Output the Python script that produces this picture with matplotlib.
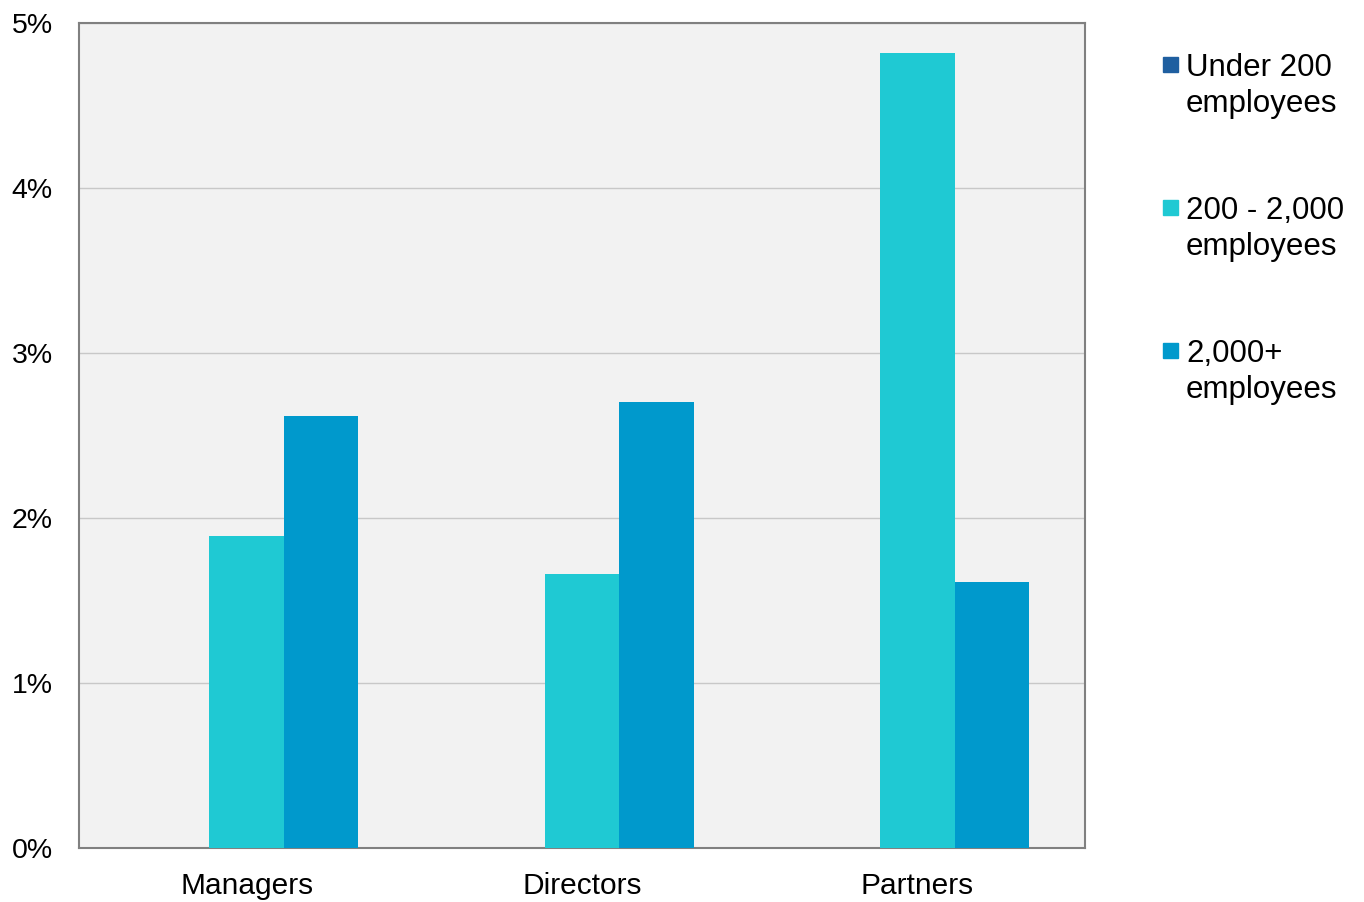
import matplotlib
matplotlib.use("Agg")
import matplotlib.pyplot as plt
from matplotlib.patches import Rectangle
import numpy as np

plt.rcParams['font.family'] = ['Liberation Sans', 'DejaVu Sans']

categories = ["Managers", "Directors", "Partners"]
series_names = ["Under 200\nemployees", "200 - 2,000\nemployees", "2,000+\nemployees"]
under_200 = [0.0, 0.0, 0.0]
mid_size = [1.89, 1.66, 4.82]
large = [2.62, 2.70, 1.61]
colors = ["#1F5FA0", "#1FC9D3", "#0099CC"]
yticks = [0, 1, 2, 3, 4, 5]

W, H, DPI = 1364, 902, 100
fig = plt.figure(figsize=(W / DPI, H / DPI), dpi=DPI)
ax = fig.add_axes([79 / W, 1 - 848 / H, (1085 - 79) / W, (848 - 23) / H])
ax.set_facecolor("#F2F2F2")

x = np.arange(len(categories))
bw = 1 / 4.5
for i, (vals, c) in enumerate(zip([under_200, mid_size, large], colors)):
    ax.bar(x + (i - 1) * bw, vals, width=bw, color=c, zorder=3, linewidth=0)

ax.set_xlim(-0.5, len(categories) - 0.5)
ax.set_ylim(0, 5)
ax.set_yticks(yticks)
ax.set_yticklabels([f"{t}%" for t in yticks])
ax.set_xticks(x)
ax.set_xticklabels(categories)
ax.tick_params(axis="both", length=0)
ax.tick_params(axis="y", pad=19, labelsize=20.5)
ax.tick_params(axis="x", pad=17, labelsize=21.5)
ax.yaxis.grid(True, color="#C8C8C8", linewidth=1, zorder=0)
for s in ax.spines.values():
    s.set_color("#808080")
    s.set_linewidth(1.5)

# legend: square marker beside the first line of each two-line label
leg_y = [64, 207, 350]
for name, c, yy in zip(series_names, colors, leg_y):
    fig.add_artist(Rectangle((1163 / W, 1 - (yy + 8) / H), 15 / W, 15 / H,
                             transform=fig.transFigure, color=c))
    fig.text(1186 / W, 1 - (yy - 11) / H, name, fontsize=22.5, va="top", ha="left",
             linespacing=1.27)

fig.savefig("out.png", dpi=DPI, facecolor="white")
